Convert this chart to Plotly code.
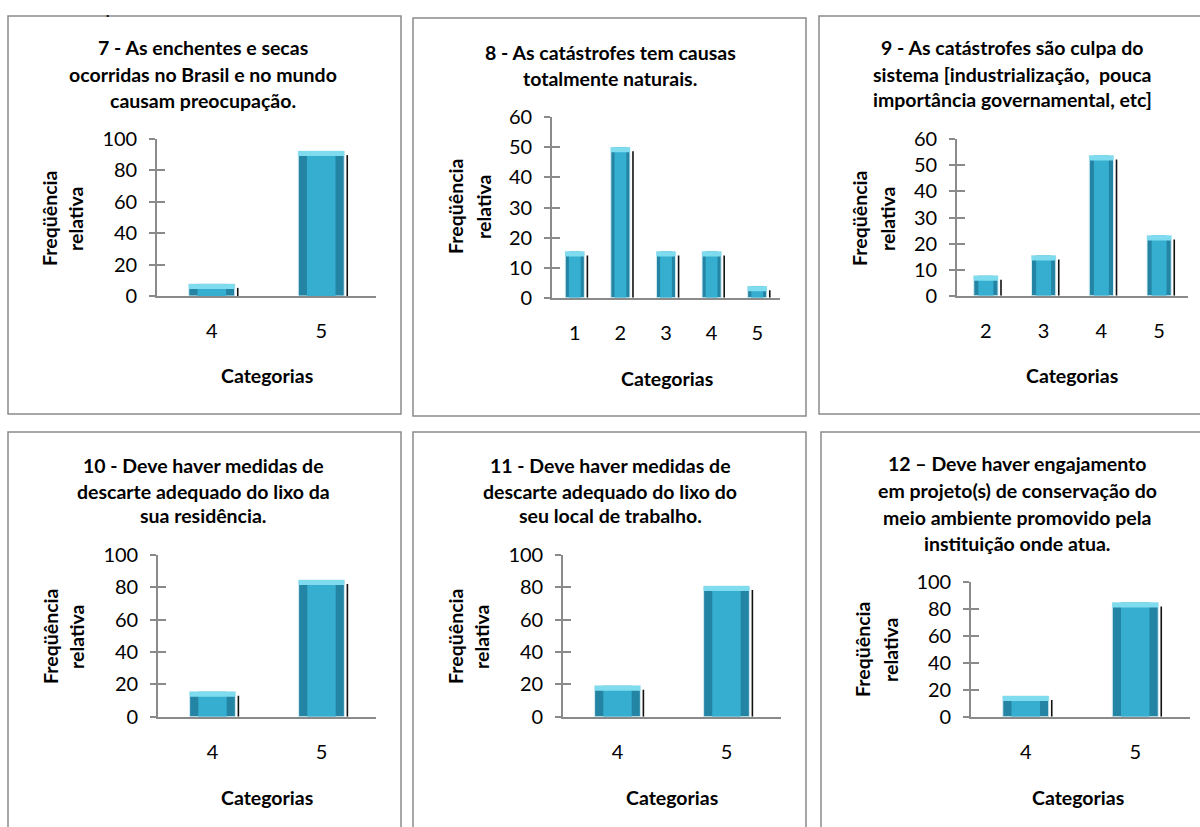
import plotly.graph_objects as go

W, H = 1200, 827

# ---- dados (frequência relativa, %) ----
titulo7 = ["7 - As enchentes e secas", "ocorridas no Brasil e no mundo", "causam preocupação."]
categorias7 = ["4", "5"]
freq7 = [7.7, 92.3]

titulo8 = ["8 - As catástrofes tem causas", "totalmente naturais."]
categorias8 = ["1", "2", "3", "4", "5"]
freq8 = [15.4, 50.0, 15.4, 15.4, 3.8]

titulo9 = ["9 - As catástrofes são culpa do", "sistema [industrialização,  pouca", "importância governamental, etc]"]
categorias9 = ["2", "3", "4", "5"]
freq9 = [7.7, 15.4, 53.8, 23.1]

titulo10 = ["10 - Deve haver medidas de", "descarte adequado do lixo da", "sua residência."]
categorias10 = ["4", "5"]
freq10 = [15.4, 84.6]

titulo11 = ["11 - Deve haver medidas de", "descarte adequado do lixo do", "seu local de trabalho."]
categorias11 = ["4", "5"]
freq11 = [19.2, 80.8]

titulo12 = ["12 – Deve haver engajamento", "em projeto(s) de conservação do", "meio ambiente promovido pela", "instituição onde atua."]
categorias12 = ["4", "5"]
freq12 = [15.4, 84.6]

eixo_y_max = [100, 60, 60, 100, 100, 100]
eixo_y_passo = [20, 10, 10, 20, 20, 20]

rotulo_y = ["Freqüência", "relativa"]
rotulo_x = "Categorias"

# ---- disposição dos painéis (pixels) ----
paineis = [
    dict(box=(8, 16, 401, 414), px=(157, 376), py=(139, 296), tit_x=203, tit_y=[48, 74, 100],
         ylab_x=(50, 76), ylab_y=219, cat=(267, 375)),
    dict(box=(413, 18, 806, 416), px=(552, 780), py=(117.3, 297.7), tit_x=610, tit_y=[52, 78],
         ylab_x=(455, 483), ylab_y=207, cat=(667, 378)),
    dict(box=(819, 16, 1215, 414), px=(957, 1188), py=(139.3, 295.7), tit_x=1012, tit_y=[48, 74, 99],
         ylab_x=(860, 888), ylab_y=219, cat=(1072, 375)),
    dict(box=(8, 432, 401, 840), px=(158, 376), py=(555, 716.7), tit_x=203, tit_y=[465, 491, 515],
         ylab_x=(50, 76), ylab_y=637, cat=(267, 797)),
    dict(box=(413, 432, 806, 840), px=(563, 781), py=(555, 716.7), tit_x=610, tit_y=[465, 491, 515],
         ylab_x=(455, 481), ylab_y=637, cat=(672, 797)),
    dict(box=(821, 432, 1215, 840), px=(971, 1190), py=(581.7, 716.7), tit_x=1017, tit_y=[463, 490, 517, 543],
         ylab_x=(862, 890), ylab_y=650, cat=(1078, 797)),
]

dados = [
    (titulo7, categorias7, freq7),
    (titulo8, categorias8, freq8),
    (titulo9, categorias9, freq9),
    (titulo10, categorias10, freq10),
    (titulo11, categorias11, freq11),
    (titulo12, categorias12, freq12),
]

FONTE = "Lato, 'Open Sans', sans-serif"
CINZA = "#8a8a8a"
LARG = 0.42  # largura relativa das barras
T_TIT = 19.5  # tamanho dos textos em negrito
T_TICK = 20


def fx(p):
    return p / W


def fy(p):
    return 1 - p / H


fig = go.Figure()
layout = dict(
    width=W, height=H, autosize=False,
    margin=dict(l=0, r=0, t=0, b=0, pad=0, autoexpand=False),
    paper_bgcolor="white", plot_bgcolor="rgba(0,0,0,0)",
    showlegend=False, barmode="overlay",
    font=dict(family=FONTE, color="#000000"),
    shapes=[], annotations=[],
)

for k, (pn, (titulo, cats, vals)) in enumerate(zip(paineis, dados), start=1):
    ymax = eixo_y_max[k - 1]
    passo = eixo_y_passo[k - 1]
    n = len(cats)
    xs = list(range(n))
    xa, ya = f"x{k}", f"y{k}"
    yb = f"y{k + 6}"

    px_por_cat = (pn["px"][1] - pn["px"][0]) / n
    px_por_un = (pn["py"][1] - pn["py"][0]) / ymax
    capa = 5 / px_por_un  # faixa clara no topo da barra
    desloc = 3 / px_por_cat  # afastamento da linha de sombra

    # corpo da barra (bordas mais escuras)
    fig.add_trace(go.Bar(x=xs, y=vals, width=LARG, xaxis=xa, yaxis=ya,
                         marker=dict(color="#2484a4", line=dict(color="#d6eef4", width=1)),
                         hoverinfo="skip"))
    # centro mais claro
    fig.add_trace(go.Bar(x=xs, y=vals, width=LARG * 0.62, xaxis=xa, yaxis=ya,
                         marker=dict(color="#35aed0", line=dict(width=0)), hoverinfo="skip"))
    # topo realçado
    fig.add_trace(go.Bar(x=xs, y=[capa] * n, base=[v - capa for v in vals], width=LARG,
                         xaxis=xa, yaxis=ya,
                         marker=dict(color="#7fdcee", line=dict(width=0)), hoverinfo="skip"))
    # linha de sombra à direita de cada barra
    sx, sy = [], []
    for xi, v in zip(xs, vals):
        xr = xi + LARG / 2 + desloc
        sx += [xr, xr, None]
        sy += [0, max(v - 0.8 * capa, 0), None]
    fig.add_trace(go.Scatter(x=sx, y=sy, mode="lines", xaxis=xa, yaxis=ya,
                             line=dict(color="#111111", width=1.6), hoverinfo="skip"))
    # traço invisível que ativa o eixo de marcas internas
    fig.add_trace(go.Scatter(x=[0], y=[0], mode="markers", marker=dict(opacity=0),
                             xaxis=xa, yaxis=yb, hoverinfo="skip"))

    dom_x = [fx(pn["px"][0]), fx(pn["px"][1])]
    dom_y = [fy(pn["py"][1]), fy(pn["py"][0])]
    layout[f"xaxis{k}"] = dict(
        domain=dom_x, anchor=ya, range=[-0.5, n - 0.5], automargin=False,
        tickmode="array", tickvals=xs, ticktext=cats,
        showline=True, linecolor=CINZA, linewidth=1.6,
        ticks="", showgrid=False, zeroline=False,
        tickfont=dict(size=T_TICK, family=FONTE, color="#000"),
        ticklabelstandoff=16, fixedrange=True,
    )
    layout[f"yaxis{k}"] = dict(
        domain=dom_y, anchor=xa, range=[0, ymax], dtick=passo, tick0=0, automargin=False,
        showline=True, linecolor=CINZA, linewidth=1.6,
        ticks="outside", ticklen=6, tickwidth=1.6, tickcolor=CINZA,
        showgrid=False, zeroline=False,
        tickfont=dict(size=T_TICK, family=FONTE, color="#000"),
        ticklabelstandoff=8, fixedrange=True,
    )
    layout[f"yaxis{k + 6}"] = dict(
        overlaying=ya, anchor=xa, range=[0, ymax], dtick=passo, tick0=0, automargin=False,
        showline=False, ticks="inside", ticklen=8, tickwidth=1.6, tickcolor=CINZA,
        showticklabels=False, showgrid=False, zeroline=False, fixedrange=True,
    )

    # moldura do painel
    x0, y0, x1, y1 = pn["box"]
    layout["shapes"].append(dict(type="rect", xref="paper", yref="paper",
                                 x0=fx(x0), x1=fx(x1), y0=fy(y1), y1=fy(y0),
                                 line=dict(color=CINZA, width=1.5), layer="below"))

    # título em linhas
    for linha, ty in zip(titulo, pn["tit_y"]):
        layout["annotations"].append(dict(
            text=f"<b>{linha}</b>", x=fx(pn["tit_x"]), y=fy(ty), xref="paper", yref="paper",
            xanchor="center", yanchor="middle", showarrow=False,
            font=dict(size=T_TIT, family=FONTE, color="#000")))

    # título do eixo y (duas linhas giradas)
    for linha, lx in zip(rotulo_y, pn["ylab_x"]):
        layout["annotations"].append(dict(
            text=f"<b>{linha}</b>", x=fx(lx), y=fy(pn["ylab_y"]), xref="paper", yref="paper",
            xanchor="center", yanchor="middle", textangle=-90, showarrow=False,
            font=dict(size=T_TIT, family=FONTE, color="#000")))

    # título do eixo x
    layout["annotations"].append(dict(
        text=f"<b>{rotulo_x}</b>", x=fx(pn["cat"][0]), y=fy(pn["cat"][1]), xref="paper", yref="paper",
        xanchor="center", yanchor="middle", showarrow=False,
        font=dict(size=T_TIT, family=FONTE, color="#000")))

# ponto solto acima do primeiro painel
layout["annotations"].append(dict(text="<b>.</b>", x=fx(107), y=fy(1), xref="paper", yref="paper",
                                  xanchor="center", yanchor="top", showarrow=False,
                                  font=dict(size=14, family=FONTE, color="#000")))

fig.update_layout(**layout)
fig.write_html("out.html")
